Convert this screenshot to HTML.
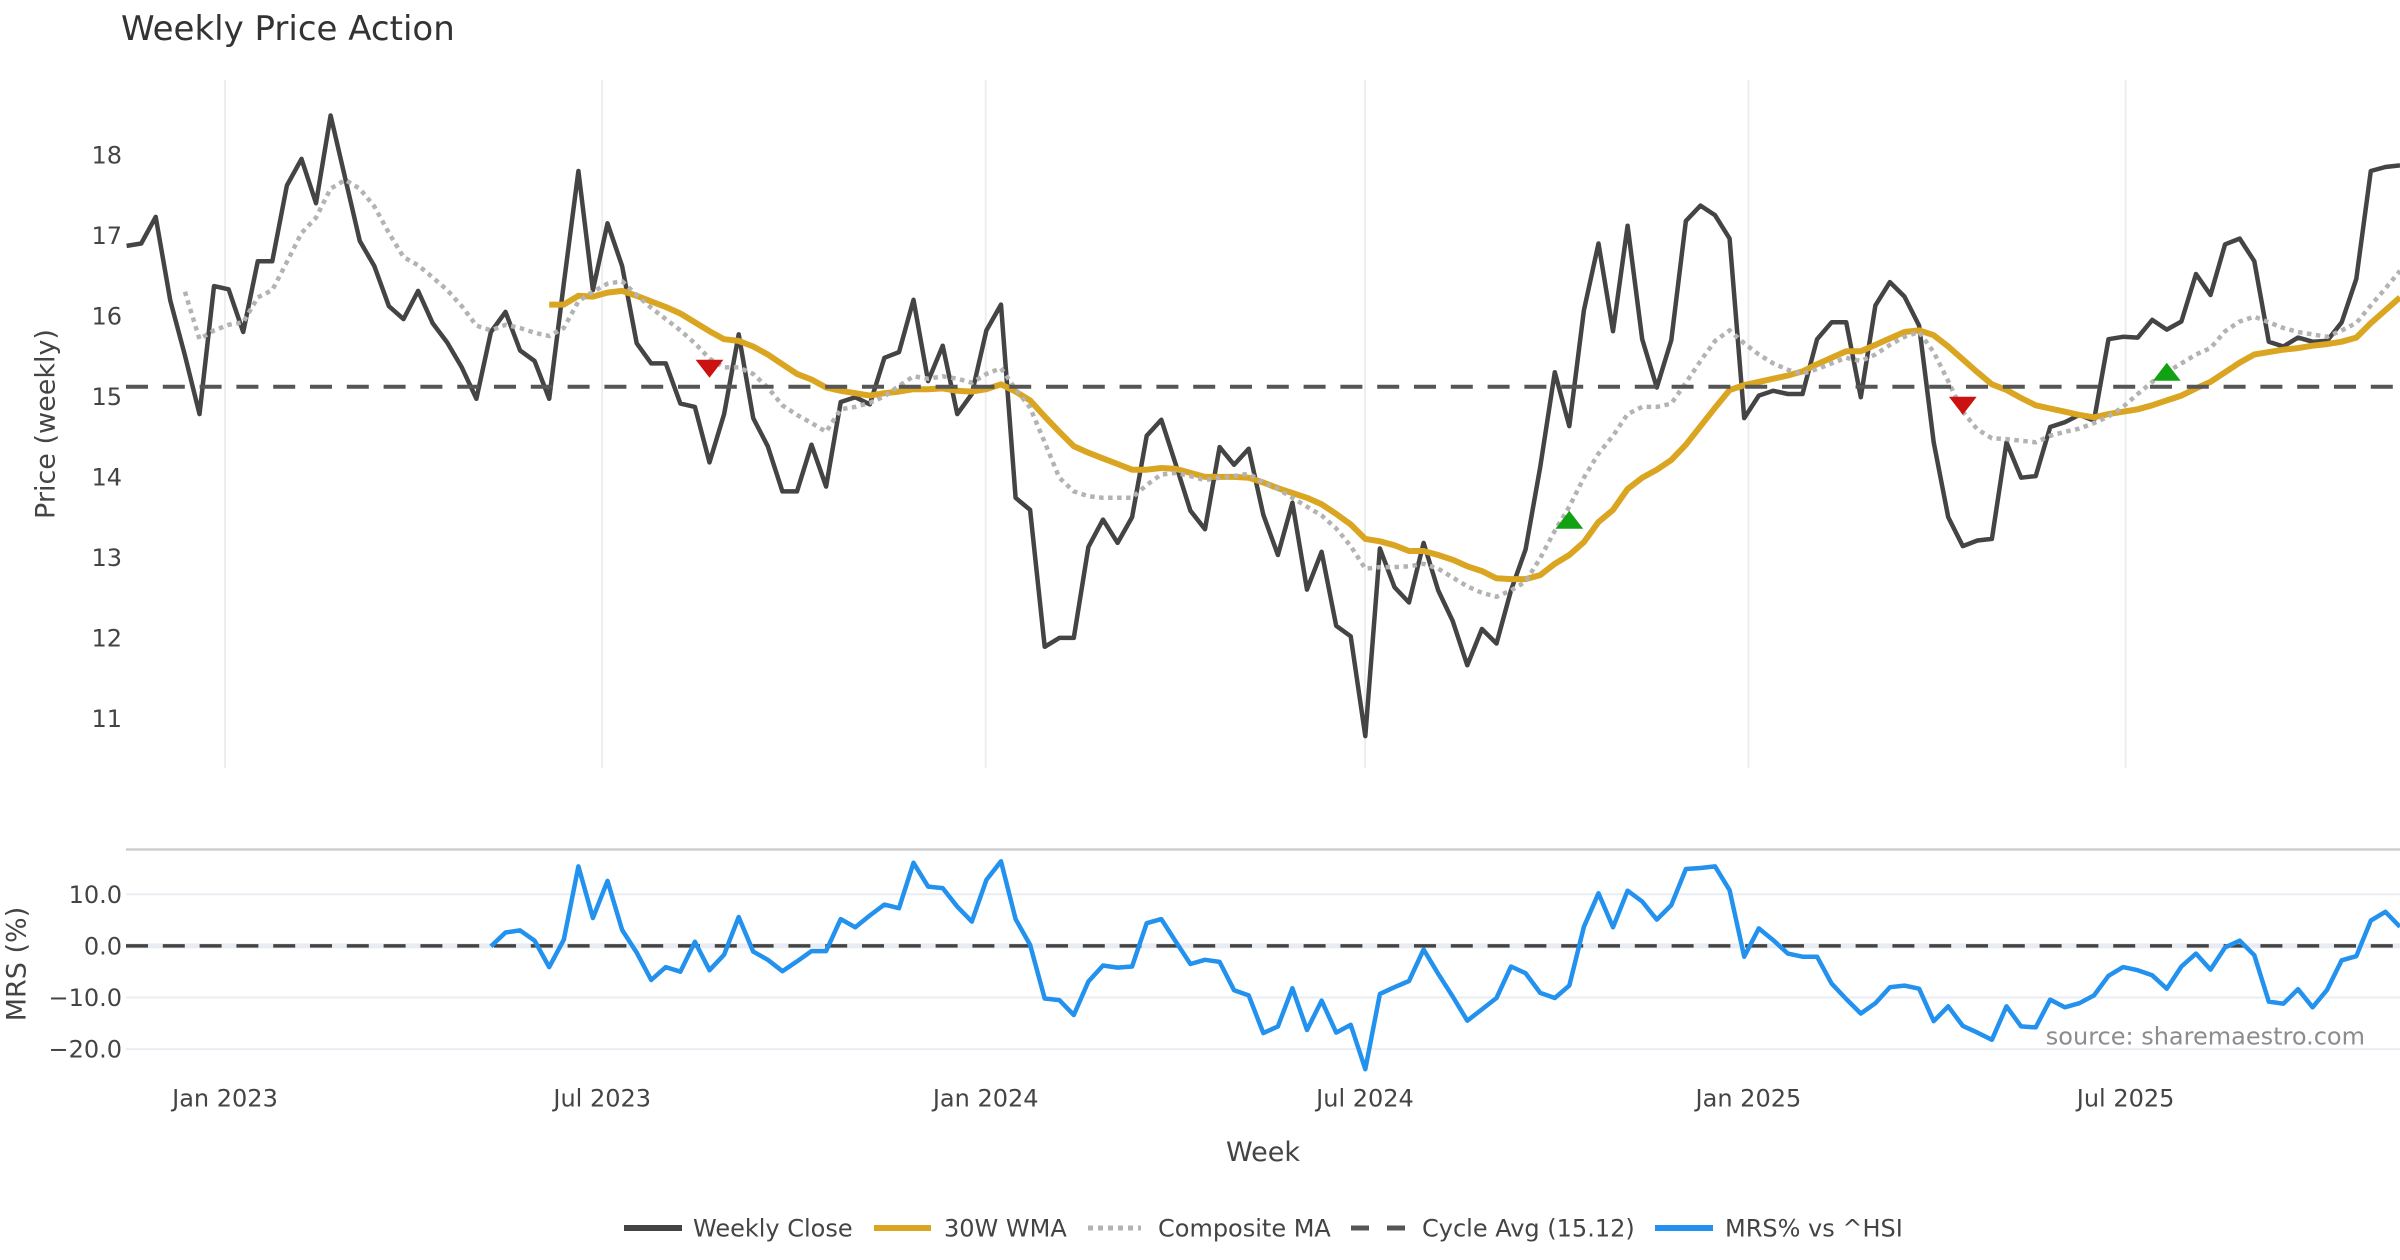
<!DOCTYPE html>
<html>
<head>
<meta charset="utf-8">
<style>
html,body{margin:0;padding:0;background:#fff;}
svg{display:block;}
text{font-family:"DejaVu Sans","Liberation Sans",sans-serif;}
</style>
</head>
<body>
<svg id="chart" width="2400" height="1260" viewBox="0 0 2400 1260" xmlns="http://www.w3.org/2000/svg">
<rect x="0" y="0" width="2400" height="1260" fill="#ffffff"/>

<!-- Title -->
<text x="121" y="40" font-size="34" fill="#333333">Weekly Price Action</text>

<!-- Top panel vertical gridlines -->
<g stroke="#ebeff2" stroke-width="2">
<line x1="225" y1="80" x2="225" y2="768"/>
<line x1="602.2" y1="80" x2="602.2" y2="768"/>
<line x1="985.7" y1="80" x2="985.7" y2="768"/>
<line x1="1365" y1="80" x2="1365" y2="768"/>
<line x1="1748.4" y1="80" x2="1748.4" y2="768"/>
<line x1="2125.6" y1="80" x2="2125.6" y2="768"/>
</g>

<!-- Top y tick labels -->
<g font-size="24" fill="#444444" text-anchor="end">
<text x="122" y="163.4">18</text>
<text x="122" y="243.9">17</text>
<text x="122" y="324.4">16</text>
<text x="122" y="404.9">15</text>
<text x="122" y="485.4">14</text>
<text x="122" y="565.9">13</text>
<text x="122" y="646.4">12</text>
<text x="122" y="726.9">11</text>
</g>
<text transform="translate(54.5,424) rotate(-90)" text-anchor="middle" font-size="27" fill="#444444">Price (weekly)</text>

<!-- Lower panel -->
<line x1="126" y1="849.5" x2="2400" y2="849.5" stroke="#cfcfcf" stroke-width="2.5"/>
<g stroke="#eaedf2" stroke-width="2">
<line x1="126" y1="894.3" x2="2400" y2="894.3"/>
<line x1="126" y1="997.5" x2="2400" y2="997.5"/>
<line x1="126" y1="1049.1" x2="2400" y2="1049.1"/>
</g>
<line x1="126" y1="945.9" x2="2400" y2="945.9" stroke="#e9ecf2" stroke-width="5"/>
<line x1="126" y1="945.9" x2="2400" y2="945.9" stroke="#444444" stroke-width="3.5" stroke-dasharray="22 14.8"/>

<g font-size="24" fill="#444444" text-anchor="end">
<text x="122" y="902.8">10.0</text>
<text x="122" y="954.4">0.0</text>
<text x="122" y="1006">−10.0</text>
<text x="122" y="1057.6">−20.0</text>
</g>
<text transform="translate(25.5,964) rotate(-90)" text-anchor="middle" font-size="27" fill="#444444">MRS (%)</text>

<!-- X tick labels -->
<g font-size="24" fill="#444444" text-anchor="middle">
<text x="225" y="1106.5">Jan 2023</text>
<text x="602.2" y="1106.5">Jul 2023</text>
<text x="985.7" y="1106.5">Jan 2024</text>
<text x="1365" y="1106.5">Jul 2024</text>
<text x="1748.4" y="1106.5">Jan 2025</text>
<text x="2125.6" y="1106.5">Jul 2025</text>
</g>
<text x="1263" y="1161" text-anchor="middle" font-size="27" fill="#444444">Week</text>

<!-- Series -->
<polyline id="close" fill="none" stroke="#444444" stroke-width="4.5" stroke-linejoin="round" points=""/>
<polyline id="wma" fill="none" stroke="#DAA520" stroke-width="6" stroke-linejoin="round" points=""/>
<polyline id="comp" fill="none" stroke="#b3b3b3" stroke-width="4.5" stroke-dasharray="4.5 4.5" points=""/>
<line x1="126" y1="386.7" x2="2400" y2="386.7" stroke="#555555" stroke-width="4" stroke-dasharray="22 14.8"/>

<!-- Markers -->
<polygon points="695.6,359.8 723.4,359.8 709.5,377.8" fill="#cc1111"/>
<polygon points="1948.9,396.8 1976.7,396.8 1962.8,414.8" fill="#cc1111"/>
<polygon points="1555.4,528.8 1583.2,528.8 1569.3,510.8" fill="#12a112"/>
<polygon points="2152.9,380.7 2180.7,380.7 2166.8,362.7" fill="#12a112"/>

<polyline id="mrs" fill="none" stroke="#2391ee" stroke-width="4.5" stroke-linejoin="round" points=""/>

<!-- Source -->
<text x="2365" y="1044.5" text-anchor="end" font-size="24" fill="#8c8c8c">source: sharemaestro.com</text>

<!-- Legend -->
<line x1="624" y1="1228" x2="682" y2="1228" stroke="#444444" stroke-width="6"/>
<text x="693" y="1236.5" font-size="24" fill="#444444">Weekly Close</text>
<line x1="874" y1="1228" x2="931" y2="1228" stroke="#DAA520" stroke-width="6"/>
<text x="944" y="1236.5" font-size="24" fill="#444444">30W WMA</text>
<line x1="1088" y1="1228" x2="1141" y2="1228" stroke="#b3b3b3" stroke-width="5" stroke-dasharray="5 5"/>
<text x="1158" y="1236.5" font-size="24" fill="#444444">Composite MA</text>
<line x1="1351" y1="1228" x2="1405" y2="1228" stroke="#555555" stroke-width="5" stroke-dasharray="18 18"/>
<text x="1422" y="1236.5" font-size="24" fill="#444444">Cycle Avg (15.12)</text>
<line x1="1655" y1="1228" x2="1713" y2="1228" stroke="#2391ee" stroke-width="6"/>
<text x="1725" y="1236.5" font-size="24" fill="#444444">MRS% vs ^HSI</text>
</svg>

<script>
(function(){
var C=[16.87,16.90,17.23,16.19,15.51,14.78,16.37,16.33,15.80,16.68,
16.68,17.62,17.95,17.40,18.49,17.71,16.93,16.62,16.12,15.96,
16.31,15.91,15.67,15.36,14.97,15.80,16.05,15.57,15.44,14.97,
16.40,17.80,16.32,17.15,16.62,15.66,15.41,15.41,14.91,14.87,
14.18,14.78,15.77,14.73,14.38,13.82,13.82,14.40,13.88,14.93,
14.99,14.90,15.48,15.55,16.20,15.19,15.63,14.78,15.03,15.82,
16.14,13.74,13.59,11.89,12.00,12.00,13.13,13.47,13.18,13.50,
14.51,14.71,14.15,13.58,13.35,14.37,14.15,14.35,13.53,13.03,
13.68,12.60,13.07,12.15,12.02,10.78,13.11,12.63,12.44,13.18,
12.59,12.21,11.66,12.11,11.93,12.59,13.10,14.12,15.30,14.63,
16.07,16.90,15.81,17.12,15.71,15.11,15.70,17.18,17.37,17.25,
16.96,14.73,15.01,15.07,15.03,15.03,15.71,15.92,15.92,14.99,
16.13,16.42,16.24,15.88,14.43,13.50,13.14,13.21,13.23,14.43,
13.99,14.01,14.62,14.68,14.77,14.70,15.71,15.74,15.73,15.95,
15.83,15.93,16.52,16.26,16.89,16.96,16.68,15.68,15.62,15.73,
15.68,15.69,15.92,16.46,17.80,17.85,17.87];
var W=[16.14,16.14,16.25,16.24,16.29,16.31,16.25,16.18,16.11,16.03,
15.92,15.81,15.71,15.69,15.62,15.52,15.40,15.28,15.21,15.11,
15.07,15.04,15.01,15.04,15.06,15.09,15.09,15.10,15.07,15.06,
15.09,15.15,15.06,14.95,14.75,14.56,14.38,14.30,14.23,14.16,
14.09,14.09,14.11,14.10,14.05,14.00,14.00,14.00,13.99,13.93,
13.86,13.80,13.74,13.66,13.54,13.41,13.23,13.20,13.15,13.08,
13.08,13.03,12.97,12.89,12.83,12.74,12.73,12.73,12.78,12.92,
13.03,13.19,13.44,13.59,13.85,13.99,14.09,14.21,14.40,14.63,
14.86,15.08,15.14,15.18,15.22,15.26,15.31,15.40,15.48,15.56,
15.56,15.64,15.72,15.80,15.82,15.76,15.62,15.46,15.30,15.15,
15.08,14.98,14.89,14.85,14.81,14.77,14.74,14.78,14.81,14.84,
14.89,14.95,15.01,15.10,15.18,15.30,15.42,15.52,15.55,15.58,
15.60,15.63,15.65,15.68,15.73,15.91,16.07,16.23];
var M=[16.30,15.71,15.82,15.89,15.92,16.23,16.32,16.67,17.03,17.22,
17.58,17.69,17.58,17.36,17.03,16.73,16.63,16.48,16.32,16.12,
15.88,15.82,15.89,15.85,15.79,15.75,15.85,16.18,16.30,16.40,
16.43,16.26,16.10,15.96,15.82,15.66,15.47,15.36,15.36,15.28,
15.11,14.89,14.77,14.67,14.56,14.84,14.87,14.92,15.00,15.13,
15.25,15.22,15.25,15.22,15.17,15.28,15.35,15.09,14.86,14.43,
13.99,13.82,13.76,13.74,13.74,13.74,13.90,14.03,14.05,14.01,
13.96,13.99,14.01,14.04,13.93,13.85,13.74,13.63,13.52,13.36,
13.14,12.86,12.88,12.88,12.89,12.92,12.86,12.75,12.64,12.56,
12.51,12.59,12.70,12.99,13.33,13.63,13.99,14.29,14.51,14.78,
14.87,14.87,14.91,15.17,15.44,15.69,15.82,15.66,15.52,15.41,
15.33,15.28,15.34,15.41,15.48,15.44,15.52,15.64,15.74,15.80,
15.55,15.19,14.81,14.59,14.48,14.47,14.45,14.43,14.51,14.56,
14.60,14.67,14.75,14.87,15.03,15.18,15.30,15.41,15.52,15.60,
15.81,15.93,15.99,15.92,15.85,15.80,15.77,15.74,15.82,15.91,
16.13,16.34,16.56];
var R=[-0.1,2.6,3.0,1.0,-4.1,1.2,15.4,5.4,12.6,3.1,
-1.3,-6.6,-4.1,-5.0,0.8,-4.7,-1.7,5.6,-1.1,-2.7,
-4.9,-3.0,-1.0,-1.0,5.2,3.6,5.9,8.0,7.3,16.1,
11.5,11.2,7.6,4.7,12.8,16.4,5.2,0.2,-10.2,-10.5,
-13.4,-6.9,-3.8,-4.2,-4.0,4.4,5.2,0.8,-3.5,-2.7,
-3.1,-8.6,-9.6,-16.9,-15.6,-8.2,-16.3,-10.6,-16.8,-15.3,
-23.9,-9.3,-8.0,-6.8,-0.7,-5.4,-9.8,-14.5,-12.3,-10.1,
-4.0,-5.3,-9.1,-10.1,-7.7,3.7,10.2,3.6,10.7,8.6,
5.1,7.9,14.9,15.1,15.4,10.8,-2.1,3.4,1.1,-1.5,
-2.1,-2.1,-7.3,-10.3,-13.1,-11.1,-8.0,-7.7,-8.3,-14.6,
-11.7,-15.5,-16.8,-18.2,-11.7,-15.6,-15.8,-10.4,-11.9,-11.1,
-9.6,-5.8,-4.1,-4.7,-5.7,-8.3,-4.0,-1.5,-4.6,-0.3,
1.0,-1.8,-10.8,-11.2,-8.4,-11.9,-8.5,-2.8,-2.0,4.9,
6.6,3.7];
function X(i){return (126.6+14.573*i).toFixed(1);}
function YP(p){return (396.4-(p-15)*80.5).toFixed(1);}
function YM(v){return (945.9-v*5.16).toFixed(1);}
function pts(a,off,f){var s=[];for(var k=0;k<a.length;k++){s.push(X(k+off)+','+f(a[k]));}return s.join(' ');}
document.getElementById('close').setAttribute('points',pts(C,0,YP));
document.getElementById('wma').setAttribute('points',pts(W,29,YP));
document.getElementById('comp').setAttribute('points',pts(M,4,YP));
document.getElementById('mrs').setAttribute('points',pts(R,25,YM));
})();
</script>
</body>
</html>
